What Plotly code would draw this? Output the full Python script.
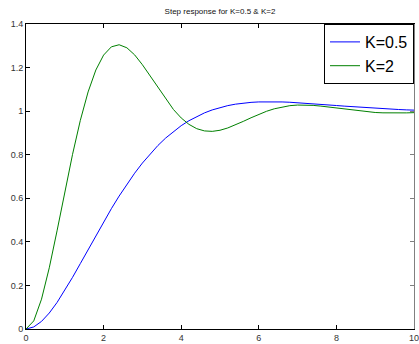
import plotly.graph_objects as go

# time samples
t = [0.0, 0.2, 0.4, 0.6, 0.8, 1.0, 1.2, 1.4, 1.6, 1.8, 2.0, 2.2, 2.4, 2.6, 2.8, 3.0,
     3.2, 3.4, 3.6, 3.8, 4.0, 4.2, 4.4, 4.6, 4.8, 5.0, 5.2, 5.4, 5.6, 5.8, 6.0,
     6.2, 6.4, 6.6, 6.8, 7.0, 7.2, 7.4, 7.6, 7.8, 8.0, 8.2, 8.4, 8.6, 8.8, 9.0,
     9.2, 9.4, 9.6, 9.8, 10.0]

# step response K=0.5
y_k05 = [0.0, 0.0094, 0.0349, 0.0733, 0.1216, 0.1769, 0.2372, 0.3003, 0.3646, 0.4288,
         0.4917, 0.5524, 0.6101, 0.6645, 0.7151, 0.7617, 0.8041, 0.8424, 0.8766, 0.9068,
         0.9333, 0.9561, 0.9756, 0.9920, 1.0056, 1.0166, 1.0254, 1.0320, 1.0369, 1.0403,
         1.0423, 1.0431, 1.0431, 1.0422, 1.0408, 1.0389, 1.0366, 1.0341, 1.0314, 1.0286,
         1.0258, 1.0231, 1.0204, 1.0179, 1.0155, 1.0132, 1.0111, 1.0092, 1.0075, 1.0059,
         1.0046]

# step response K=2
y_k2 = [0.0, 0.0372, 0.1370, 0.2809, 0.4505, 0.6289, 0.8017, 0.9575, 1.0881, 1.1887,
        1.2574, 1.2952, 1.3048, 1.2908, 1.2583, 1.2131, 1.1608, 1.1064, 1.0541, 1.0075,
        0.9687, 0.9393, 0.9195, 0.9092, 0.9072, 0.9123, 0.9228, 0.9369, 0.9530, 0.9696,
        0.9854, 0.9994, 1.0108, 1.0194, 1.0251, 1.0279, 1.0282, 1.0264, 1.0231, 1.0186,
        1.0137, 1.0086, 1.0039, 0.9997, 0.9963, 0.9938, 0.9922, 0.9914, 0.9914, 0.9920,
        0.9931]

x_ticks = [0, 2, 4, 6, 8, 10]
x_tick_labels = ["0", "2", "4", "6", "8", "10"]
y_ticks = [0, 0.2, 0.4, 0.6, 0.8, 1.0, 1.2, 1.4]
y_tick_labels = ["0", "0.2", "0.4", "0.6", "0.8", "1", "1.2", "1.4"]

title_text = "Step response for K=0.5 & K=2"
series_names = ["K=0.5", "K=2"]

FONT = "Liberation Sans, Arial, sans-serif"

fig = go.Figure()
fig.add_trace(go.Scatter(x=t, y=y_k05, mode="lines", name=series_names[0],
                         line=dict(color="#0000ff", width=1)))
fig.add_trace(go.Scatter(x=t, y=y_k2, mode="lines", name=series_names[1],
                         line=dict(color="#008000", width=1)))
# carrier for the grey right-hand axis
fig.add_trace(go.Scatter(x=[None], y=[None], yaxis="y2", showlegend=False,
                         hoverinfo="skip"))

fig.update_layout(
    width=419, height=344,
    margin=dict(l=26, r=5, t=24, b=15, autoexpand=False),
    paper_bgcolor="white", plot_bgcolor="white",
    font=dict(family=FONT, size=9, color="#333333"),
    title=dict(text=title_text, x=0.525, xanchor="center", y=1 - 11 / 344,
               yanchor="middle", yref="container",
               font=dict(family=FONT, size=8, color="#111111")),
    showlegend=True,
    legend=dict(x=1, y=1, xanchor="right", yanchor="top",
                bordercolor="black", borderwidth=1, bgcolor="white",
                font=dict(family=FONT, size=16, color="black"),
                itemwidth=30, tracegroupgap=0),
    xaxis=dict(range=[0, 10], tickvals=x_ticks, ticktext=x_tick_labels,
               showgrid=False, zeroline=False, showline=True, linecolor="black",
               linewidth=1, mirror="ticks", ticks="inside", ticklen=4,
               tickcolor="black", fixedrange=True, automargin=False,
               ticklabelstandoff=0, ticklabeloverflow="allow"),
    yaxis=dict(range=[0, 1.4], tickvals=y_ticks, ticktext=y_tick_labels,
               showgrid=False, zeroline=False, showline=True, linecolor="black",
               linewidth=1, mirror=False, ticks="inside", ticklen=4,
               tickcolor="black", fixedrange=True, automargin=False,
               ticklabeloverflow="allow"),
    yaxis2=dict(range=[0, 1.4], tickvals=y_ticks, overlaying="y", side="right",
                showgrid=False, zeroline=False, showline=True, linecolor="#808080",
                linewidth=1, ticks="inside", ticklen=4, tickcolor="#808080",
                showticklabels=False, fixedrange=True, automargin=False),
)

fig.write_html("out.html", config={"displayModeBar": False},
               post_script="document.body.style.margin='0';document.body.style.overflow='hidden';")
